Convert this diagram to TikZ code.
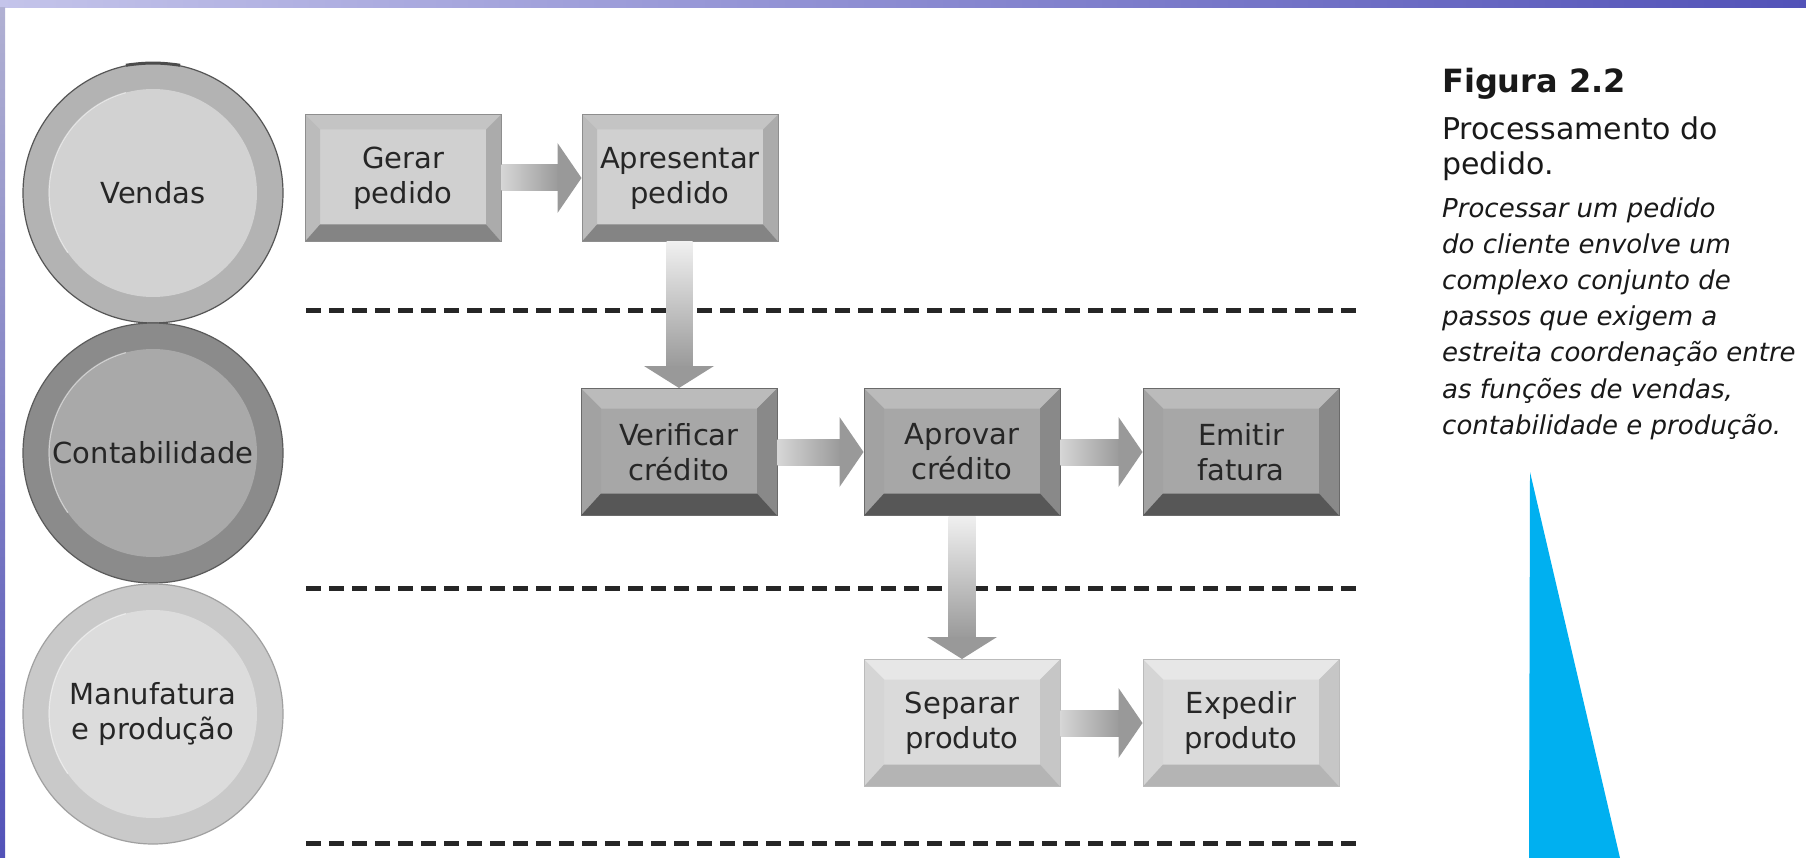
\documentclass[tikz,border=0pt]{standalone}
\usepackage{fontspec}
\setmainfont{DejaVu Sans}
\usetikzlibrary{positioning,calc}

\definecolor{vface}{HTML}{D0D0D0}\definecolor{vtop}{HTML}{C4C4C4}\definecolor{vleft}{HTML}{BBBBBB}
\definecolor{vright}{HTML}{ABABAB}\definecolor{vbot}{HTML}{848484}\definecolor{vline}{HTML}{8E8E8E}
\definecolor{cface}{HTML}{A7A7A7}\definecolor{ctop}{HTML}{BBBBBB}\definecolor{cleft}{HTML}{A2A2A2}
\definecolor{cright}{HTML}{898989}\definecolor{cbot}{HTML}{575757}\definecolor{cline}{HTML}{6A6A6A}
\definecolor{mface}{HTML}{DADADA}\definecolor{mtop}{HTML}{E7E7E7}\definecolor{mleft}{HTML}{D5D5D5}
\definecolor{mright}{HTML}{C6C6C6}\definecolor{mbot}{HTML}{B4B4B4}\definecolor{mline}{HTML}{BBBBBB}
\definecolor{vring}{HTML}{B3B3B3}\definecolor{vin}{HTML}{D2D2D2}\definecolor{vedge}{HTML}{555555}
\definecolor{cring}{HTML}{8B8B8B}\definecolor{cin}{HTML}{A9A9A9}\definecolor{cedge}{HTML}{5A5A5A}
\definecolor{mring}{HTML}{C9C9C9}\definecolor{min}{HTML}{DCDCDC}\definecolor{medge}{HTML}{A0A0A0}
\definecolor{flowgray}{HTML}{999999}\definecolor{flowlight}{HTML}{D6D6D6}\definecolor{flowpale}{HTML}{F0F0F0}
\definecolor{barleft}{HTML}{C4C4EA}\definecolor{barright}{HTML}{5252B8}
\definecolor{tri}{HTML}{00B0F0}

\newcommand\hflow[2]{%
  \shade[left color=flowlight,right color=flowgray] ([yshift=13pt]#1.east) rectangle ([shift={(-22pt,-13pt)}]#2.west);
  \fill[flowgray] ([shift={(-24pt,35pt)}]#2.west) -- (#2.west) -- ([shift={(-24pt,-35pt)}]#2.west) -- cycle;}
\newcommand\vflow[2]{%
  \shade[top color=flowpale,bottom color=flowgray] ([xshift=-13.5pt]#1.south) rectangle ([shift={(13.5pt,20pt)}]#2.north);
  \fill[flowgray] ([shift={(-35pt,22pt)}]#2.north) -- (#2.north) -- ([shift={(35pt,22pt)}]#2.north) -- cycle;}

\begin{document}
\begin{tikzpicture}[x=1pt,y=-1pt,
  lbl/.style={font=\fontsize{29}{35}\selectfont,text=black!85,align=center},
  lane/.style={circle,minimum size=260,inner sep=0pt,lbl,fill=#1ring,draw=#1edge,line width=1.2,
    path picture={\fill[#1in] (path picture bounding box.center) circle (104pt);
      \draw[white,opacity=.5,line width=1.2] ([shift={(105:104pt)}]path picture bounding box.center) arc[start angle=105,end angle=215,radius=104pt];}},
  task/.style 2 args={lbl,minimum width=196,minimum height=127,inner sep=0pt,fill=#1face,draw=#1line,line width=1,
    path picture={
      \coordinate (pa) at (path picture bounding box.north west);
      \coordinate (pb) at (path picture bounding box.north east);
      \coordinate (pc) at (path picture bounding box.south east);
      \coordinate (pd) at (path picture bounding box.south west);
      \fill[#1top] (pa) -- (pb) -- ([shift={(-#2pt,-#2pt)}]pb) -- ([shift={(#2pt,-#2pt)}]pa) -- cycle;
      \fill[#1left] (pa) -- ([shift={(#2pt,-#2pt)}]pa) -- ([shift={(#2pt,#2pt+2pt)}]pd) -- (pd) -- cycle;
      \fill[#1right] (pb) -- ([shift={(-#2pt,-#2pt)}]pb) -- ([shift={(-#2pt,#2pt+2pt)}]pc) -- (pc) -- cycle;
      \fill[#1bot] (pd) -- (pc) -- ([shift={(-#2pt,#2pt+2pt)}]pc) -- ([shift={(#2pt,#2pt+2pt)}]pd) -- cycle;}},
  lanesep/.style={line width=5,dash pattern=on 15pt off 8pt,black!85},
  capt/.style={inner sep=0pt,anchor=base west,text=black!90,font=\fontsize{30}{35}\selectfont},
  body/.style={capt,font=\fontsize{26}{36}\selectfont\itshape}]
\useasboundingbox (0,0) rectangle (1806,858);
\shade[left color=barleft,right color=barright] (0,0) rectangle (1806,8);
\shade[top color=barleft!90!black,middle color=barleft!35,bottom color=barright] (0,8) rectangle (5,858);

\coordinate (s1) at (306,311);
\coordinate (s2) at (306,588);
\coordinate (s3) at (306,843);
\foreach \s in {s1,s2,s3} \draw[lanesep] (\s) -- ++(1057,0);

\node[lane=v] (vendas) at (153,193) {Vendas};
\node[lane=c] (contab) at (153,453) {Contabilidade};
\node[lane=m] (manuf) at (153,714) {Manufatura\\e produção};
\draw[line width=3,black!70] (vendas.102) to[bend left=8] (vendas.78);

\node[task={v}{15}] (gerar) at (403,178) {Gerar\\pedido};
\node[task={v}{15}] (apres) at (680,178) {Apresentar\\pedido};
\node[task={c}{20}] (verif) at (679,452) {Verificar\\crédito};
\node[task={c}{20}] (aprov) at (962,452) {Aprovar\\crédito};
\node[task={c}{20}] (emitir) at (1241,452) {Emitir\\fatura};
\node[task={m}{20}] (separ) at (962,723) {Separar\\produto};
\node[task={m}{20}] (exped) at (1241,723) {Expedir\\produto};

\foreach \a/\b in {gerar/apres,verif/aprov,aprov/emitir,separ/exped} {\hflow{\a}{\b}}
\vflow{apres}{verif}
\vflow{aprov}{separ}

\node[capt,font=\fontsize{32}{38}\selectfont\bfseries] (fig) at (1442,93) {Figura 2.2};
\node[capt] (ttl1) at (1442,140) {Processamento do};
\node[capt] (ttl2) at (1442,175) {pedido.};
\foreach \t [count=\i] in {Processar um pedido,do cliente envolve um,complexo conjunto de,passos que exigem a,estreita coordenação entre,{as funções de vendas,},contabilidade e produção.}
  \node[body] (txt\i) at (1442,182+36*\i) {\t};

\fill[tri] (1530,472) -- (1620,858) -- (1529,858) -- cycle;
\end{tikzpicture}
\end{document}
